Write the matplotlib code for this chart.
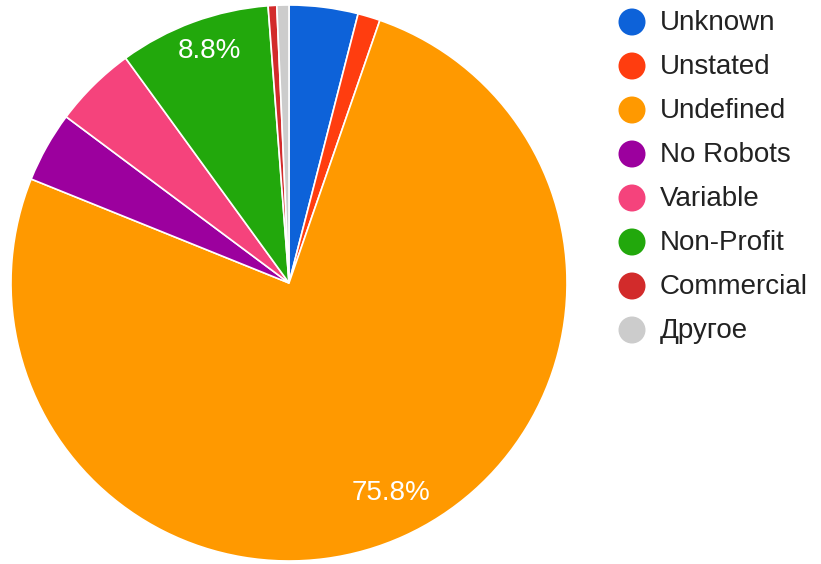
import matplotlib
matplotlib.use("Agg")
import matplotlib.pyplot as plt
from matplotlib.patches import Ellipse

labels = ["Unknown", "Unstated", "Undefined", "No Robots", "Variable",
          "Non-Profit", "Commercial", "Другое"]
values = [4.0, 1.3, 75.8, 4.1, 4.8, 8.8, 0.5, 0.7]
colors = ["#0d62d9", "#ff3d0f", "#ff9900", "#9c009e", "#f5437c",
          "#22a80c", "#d22b2b", "#cccccc"]

plt.rcParams['font.family'] = ['Liberation Sans', 'DejaVu Sans']

W, H = 821, 564
fig = plt.figure(figsize=(W / 100, H / 100), dpi=100)

cx, cy, r = 289, 283, 278
ax = fig.add_axes([(cx - r) / W, (H - cy - r) / H, 2 * r / W, 2 * r / H])

def fmt(p):
    return f"{p:.1f}%" if p >= 8 else ""

wedges, texts, autotexts = ax.pie(
    values, colors=colors, startangle=90, counterclock=False, radius=1,
    autopct=fmt, pctdistance=0.86,
    wedgeprops=dict(edgecolor="white", linewidth=1.2),
    textprops=dict(color="white", fontsize=20))
for t in autotexts:
    x, y = t.get_position()
    t.set_position((x + 3 / r, y + 8 / r))
ax.set_xlim(-1, 1)
ax.set_ylim(-1, 1)
ax.set_aspect('equal')
ax.axis('off')

# legend
lx_c, lx_t, ly0, dy = 632, 660, 22, 44
for i, (lab, col) in enumerate(zip(labels, colors)):
    y = ly0 + i * dy
    fig.patches.append(Ellipse(
        (lx_c / W, 1 - y / H), 27 / W, 27 / H, transform=fig.transFigure,
        facecolor=col, edgecolor="none"))
    fig.text(lx_t / W, 1 - (y + 1) / H, lab, fontsize=20, color="#222222",
             va="center", ha="left")

fig.savefig("out.png", dpi=100)
